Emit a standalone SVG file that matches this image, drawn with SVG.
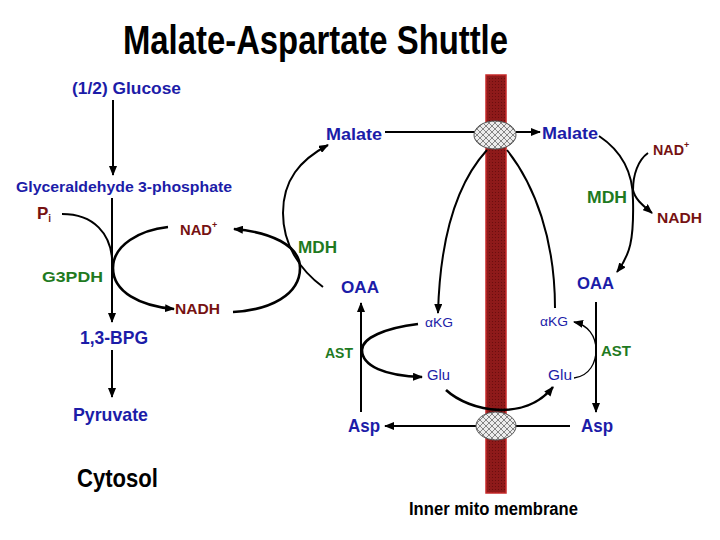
<svg xmlns="http://www.w3.org/2000/svg" width="720" height="540" viewBox="0 0 720 540">
<style>
text{font-family:"Liberation Sans",Arial,sans-serif;font-weight:bold}
.b{fill:#1c1ca8}
.r{fill:#761212}
.g{fill:#1f7a1f}
.k{fill:#000}
.n{font-weight:normal}
.ln{fill:none;stroke:#000;stroke-width:2}
.th{fill:none;stroke:#000;stroke-width:2.6}
.tn{fill:none;stroke:#000;stroke-width:1.3}
</style>
<defs>
<marker id="ah" viewBox="0 0 10 8" refX="9" refY="4" markerWidth="10" markerHeight="8" markerUnits="userSpaceOnUse" orient="auto">
<path d="M0,0 L10,4 L0,8 z" fill="#000"/>
</marker>
<pattern id="hatch" width="6" height="6" patternUnits="userSpaceOnUse">
<rect width="6" height="6" fill="#ececec"/>
<path d="M0,0 L6,6 M6,0 L0,6" stroke="#6a6a6a" stroke-width="0.8"/>
</pattern>
<pattern id="mem" width="3" height="3" patternUnits="userSpaceOnUse">
<rect width="3" height="3" fill="#8e1a1a"/>
<rect width="1" height="1" fill="#6a0e0e"/>
</pattern>
</defs>
<rect width="720" height="540" fill="#fff"/>
<text class="k" x="123" y="54" font-size="40" textLength="385" lengthAdjust="spacingAndGlyphs">Malate-Aspartate Shuttle</text>

<g id="membrane">
<rect x="486" y="75" width="20" height="418" fill="url(#mem)" stroke="#c62a2a" stroke-width="1.5"/>
</g>

<g id="connectors">
<path class="ln" d="M113,100 L113,175" marker-end="url(#ah)"/>
<path class="ln" d="M112,198 L112,322" marker-end="url(#ah)"/>
<path class="ln" d="M112,350 L112,397" marker-end="url(#ah)"/>
<path class="ln" d="M62,214 C95,214 110,235 112,258"/>
<path class="th" d="M168,227 C140,230 113,245 113,268 C113,292 140,306 174,309" marker-end="url(#ah)"/>
<path class="th" d="M233,312 C270,310 300,295 300,268 C300,245 270,232 234,229" marker-end="url(#ah)"/>
<path class="ln" d="M323,287 C300,270 283,245 283,213 C283,180 300,160 328,145" marker-end="url(#ah)"/>
<path class="ln" d="M385,132 L476,132"/>
<path class="ln" d="M516,132 L540,132" marker-end="url(#ah)"/>
<path class="ln" d="M599,136 C620,150 633,170 633,200 C634,240 630,255 617,272" marker-end="url(#ah)"/>
<path class="ln" d="M648,153 C638,160 633,175 633,190 C635,200 645,207 652,213" marker-end="url(#ah)"/>
<path class="ln" d="M487,150 C455,185 440,240 438,313" marker-end="url(#ah)"/>
<path class="ln" d="M507,150 C535,185 555,240 555,308"/>
<path class="ln" d="M361,412 L361,303" marker-end="url(#ah)"/>
<path class="ln" d="M596,302 L596,412" marker-end="url(#ah)"/>
<path class="th" d="M418,324 C385,328 362,338 362,350 C362,366 385,376 422,377" marker-end="url(#ah)"/>
<path class="tn" d="M574,378 C590,376 596,362 596,350 C596,336 588,325 574,322" marker-end="url(#ah)"/>
<path class="th" d="M446,390 C470,412 525,422 553,387" marker-end="url(#ah)"/>
<path class="ln" d="M570,426 L385,426" marker-end="url(#ah)"/>
</g>

<g id="transporter-top"><ellipse cx="495" cy="135" rx="21" ry="14" fill="url(#hatch)" stroke="#555" stroke-width="1"/></g>
<g id="transporter-bottom"><ellipse cx="496" cy="426" rx="20" ry="14" fill="url(#hatch)" stroke="#555" stroke-width="1"/></g>

<g id="glucose"><text class="b" x="72" y="94" font-size="17" textLength="109" lengthAdjust="spacingAndGlyphs">(1/2) Glucose</text></g>
<g id="g3p"><text class="b" x="16" y="192" font-size="15" textLength="216" lengthAdjust="spacingAndGlyphs">Glyceraldehyde 3-phosphate</text></g>
<g id="pi"><text class="r" x="37" y="219" font-size="17">P<tspan font-size="10" dy="3">i</tspan></text></g>
<g id="nad-left"><text class="r" x="180" y="235" font-size="14" textLength="32" lengthAdjust="spacingAndGlyphs">NAD</text><text class="r" x="212" y="228" font-size="9">+</text></g>
<g id="g3pdh"><text class="g" x="42" y="282" font-size="15" textLength="61" lengthAdjust="spacingAndGlyphs">G3PDH</text></g>
<g id="nadh-left"><text class="r" x="175" y="314" font-size="15" textLength="45" lengthAdjust="spacingAndGlyphs">NADH</text></g>
<g id="bpg"><text class="b" x="80" y="344" font-size="18" textLength="68" lengthAdjust="spacingAndGlyphs">1,3-BPG</text></g>
<g id="pyruvate"><text class="b" x="73" y="421" font-size="19" textLength="75" lengthAdjust="spacingAndGlyphs">Pyruvate</text></g>
<g id="cytosol"><text class="k" x="77" y="487" font-size="26" textLength="81" lengthAdjust="spacingAndGlyphs">Cytosol</text></g>
<g id="mdh-left"><text class="g" x="298" y="253" font-size="16" textLength="39" lengthAdjust="spacingAndGlyphs">MDH</text></g>
<g id="malate-left"><text class="b" x="326" y="140" font-size="17" textLength="56" lengthAdjust="spacingAndGlyphs">Malate</text></g>
<g id="oaa-left"><text class="b" x="341" y="293" font-size="17" textLength="38" lengthAdjust="spacingAndGlyphs">OAA</text></g>
<g id="malate-right"><text class="b" x="542" y="139" font-size="17" textLength="56" lengthAdjust="spacingAndGlyphs">Malate</text></g>
<g id="nad-right"><text class="r" x="653" y="155" font-size="14" textLength="31" lengthAdjust="spacingAndGlyphs">NAD</text><text class="r" x="684" y="148" font-size="9">+</text></g>
<g id="mdh-right"><text class="g" x="587" y="203" font-size="16" textLength="40" lengthAdjust="spacingAndGlyphs">MDH</text></g>
<g id="nadh-right"><text class="r" x="657" y="223" font-size="15" textLength="45" lengthAdjust="spacingAndGlyphs">NADH</text></g>
<g id="oaa-right"><text class="b" x="577" y="289" font-size="17" textLength="37" lengthAdjust="spacingAndGlyphs">OAA</text></g>
<g id="akg-left"><text class="b n" x="425" y="327" font-size="13" textLength="28" lengthAdjust="spacingAndGlyphs">αKG</text></g>
<g id="akg-right"><text class="b n" x="540" y="326" font-size="13" textLength="28" lengthAdjust="spacingAndGlyphs">αKG</text></g>
<g id="ast-left"><text class="g" x="325" y="358" font-size="14" textLength="28" lengthAdjust="spacingAndGlyphs">AST</text></g>
<g id="ast-right"><text class="g" x="601" y="356" font-size="14" textLength="30" lengthAdjust="spacingAndGlyphs">AST</text></g>
<g id="glu-left"><text class="b n" x="427" y="380" font-size="14" textLength="23" lengthAdjust="spacingAndGlyphs">Glu</text></g>
<g id="glu-right"><text class="b n" x="548" y="380" font-size="14" textLength="24" lengthAdjust="spacingAndGlyphs">Glu</text></g>
<g id="asp-left"><text class="b" x="348" y="432" font-size="19" textLength="32" lengthAdjust="spacingAndGlyphs">Asp</text></g>
<g id="asp-right"><text class="b" x="581" y="432" font-size="19" textLength="32" lengthAdjust="spacingAndGlyphs">Asp</text></g>
<g id="membrane-label"><text class="k" x="409" y="515" font-size="18" textLength="169" lengthAdjust="spacingAndGlyphs">Inner mito membrane</text></g>
</svg>
